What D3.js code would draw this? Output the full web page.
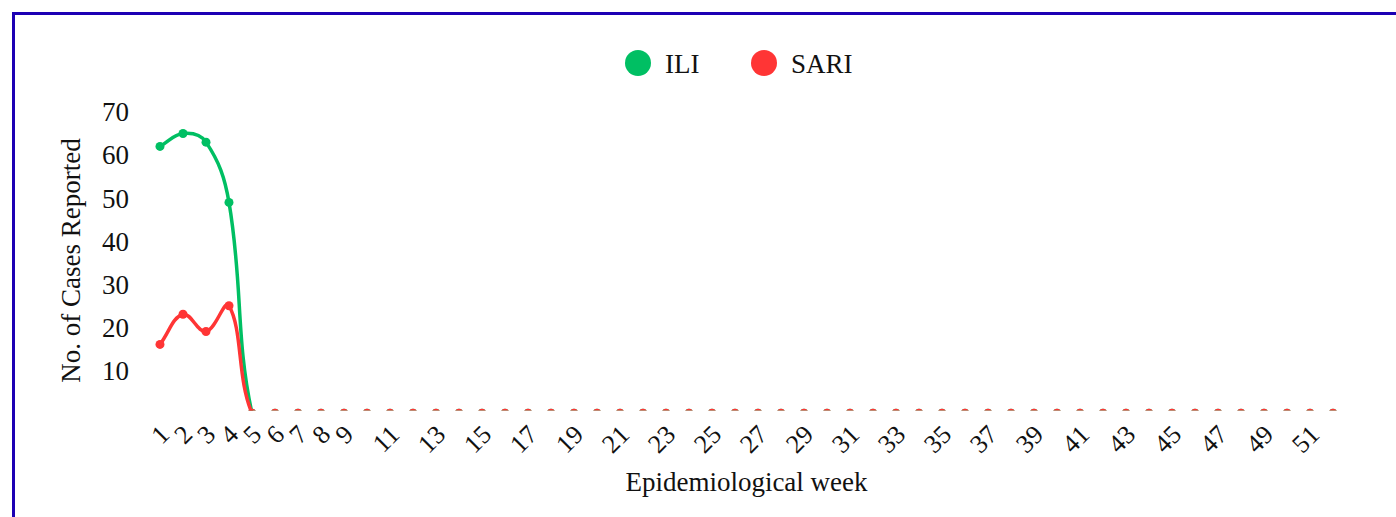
<!DOCTYPE html>
<html>
<head>
<meta charset="utf-8">
<script src="https://cdn.jsdelivr.net/npm/d3@7"></script>
<style>
  html, body { margin: 0; padding: 0; background: #fff; overflow: hidden; }
  text { font-family: "Liberation Serif", "Times New Roman", serif; fill: #111; }
</style>
</head>
<body>
<svg id="chart"></svg>
<script>
var weeks = [1, 2, 3, 4, 5, 6, 7, 8, 9, 10, 11, 12, 13, 14, 15, 16, 17, 18, 19, 20,
  21, 22, 23, 24, 25, 26, 27, 28, 29, 30, 31, 32, 33, 34, 35, 36, 37, 38, 39, 40,
  41, 42, 43, 44, 45, 46, 47, 48, 49, 50, 51, 52];

var iliCases = [62, 65, 63, 49, 0, 0, 0, 0, 0, 0, 0, 0, 0, 0, 0, 0, 0, 0, 0, 0,
  0, 0, 0, 0, 0, 0, 0, 0, 0, 0, 0, 0, 0, 0, 0, 0, 0, 0, 0, 0,
  0, 0, 0, 0, 0, 0, 0, 0, 0, 0, 0, 0];

var sariCases = [16, 23, 19, 25, 0, 0, 0, 0, 0, 0, 0, 0, 0, 0, 0, 0, 0, 0, 0, 0,
  0, 0, 0, 0, 0, 0, 0, 0, 0, 0, 0, 0, 0, 0, 0, 0, 0, 0, 0, 0,
  0, 0, 0, 0, 0, 0, 0, 0, 0, 0, 0, 0];

var xTickLabels = [1, 2, 3, 4, 5, 6, 7, 8, 9, 11, 13, 15, 17, 19, 21, 23, 25, 27,
  29, 31, 33, 35, 37, 39, 41, 43, 45, 47, 49, 51];
var yTickValues = [10, 20, 30, 40, 50, 60, 70];

var seriesNames = ['ILI', 'SARI'];
var seriesColors = ['#00bf63', '#ff3535'];

var width = 1396, height = 517;
var area = { left: 160, right: 1333, top: 112, bottom: 409 };
var tension = 0.4;

var svg = d3.select('#chart')
  .attr('width', width)
  .attr('height', height);

// frame
svg.append('rect')
  .attr('x', 13.5)
  .attr('y', 13.5)
  .attr('width', 1420)
  .attr('height', 540)
  .attr('fill', 'none')
  .attr('stroke', '#1c00b4')
  .attr('stroke-width', 3);

var x = d3.scalePoint()
  .domain(weeks)
  .range([area.left, area.right]);

var y = d3.scaleLinear()
  .domain([1, 70])
  .range([area.bottom, area.top]);

svg.append('clipPath')
  .attr('id', 'plot-clip')
  .append('rect')
  .attr('x', area.left - 20)
  .attr('y', area.top - 20)
  .attr('width', area.right - area.left + 40)
  .attr('height', area.bottom - area.top + 21.5);

// y ticks
svg.append('g')
  .selectAll('text')
  .data(yTickValues)
  .enter()
  .append('text')
  .attr('x', 129)
  .attr('y', function (d) { return y(d); })
  .attr('dy', '0.35em')
  .attr('text-anchor', 'end')
  .style('font-size', '27px')
  .text(function (d) { return d; });

// x ticks
svg.append('g')
  .selectAll('text')
  .data(xTickLabels)
  .enter()
  .append('text')
  .attr('transform', function (d) { return 'translate(' + (x(d) + 11) + ',436) rotate(-45)'; })
  .attr('text-anchor', 'end')
  .style('font-size', '26px')
  .text(function (d) { return d; });

// axis titles
svg.append('text')
  .attr('x', (area.left + area.right) / 2)
  .attr('y', 491)
  .attr('text-anchor', 'middle')
  .style('font-size', '27px')
  .text('Epidemiological week');

svg.append('text')
  .attr('transform', 'translate(80,' + ((area.top + area.bottom) / 2) + ') rotate(-90)')
  .attr('text-anchor', 'middle')
  .style('font-size', '27px')
  .text('No. of Cases Reported');

// spline like the original chart: control points weighted by segment length,
// capped to the plot only for points that sit inside it
function splinePath(pts) {
  var inside = function (p) { return p[1] >= area.top && p[1] <= area.bottom; };
  var clampY = function (v) { return Math.max(area.top, Math.min(area.bottom, v)); };
  var cps = pts.map(function (p, i) {
    var prev = pts[i - 1] || p, next = pts[i + 1] || p;
    var d01 = Math.hypot(p[0] - prev[0], p[1] - prev[1]);
    var d12 = Math.hypot(next[0] - p[0], next[1] - p[1]);
    var s01 = d01 / (d01 + d12 || 1), s12 = d12 / (d01 + d12 || 1);
    var fa = tension * s01, fb = tension * s12;
    var dx = next[0] - prev[0], dy = next[1] - prev[1];
    var c = {
      inX: p[0] - fa * dx, inY: p[1] - fa * dy,
      outX: p[0] + fb * dx, outY: p[1] + fb * dy
    };
    if (inside(p)) {
      c.inY = clampY(c.inY);
      c.outY = clampY(c.outY);
    }
    return c;
  });
  var path = d3.path();
  path.moveTo(pts[0][0], pts[0][1]);
  for (var i = 1; i < pts.length; i++) {
    path.bezierCurveTo(cps[i - 1].outX, cps[i - 1].outY, cps[i].inX, cps[i].inY, pts[i][0], pts[i][1]);
  }
  return path.toString();
}

var plot = svg.append('g').attr('clip-path', 'url(#plot-clip)');

[iliCases, sariCases].forEach(function (values, k) {
  var pts = values.map(function (v, i) { return [x(weeks[i]), y(v)]; });
  var g = plot.append('g');
  g.append('path')
    .attr('d', splinePath(pts))
    .attr('fill', 'none')
    .attr('stroke', seriesColors[k])
    .attr('stroke-width', 3.5);
  g.selectAll('circle')
    .data(values)
    .enter()
    .append('circle')
    .attr('cx', function (d, i) { return x(weeks[i]); })
    .attr('cy', function (d) { return y(d); })
    .attr('r', 4.5)
    .attr('fill', seriesColors[k]);
});

// legend
var legend = svg.append('g');
var legendX = [638, 764];
seriesNames.forEach(function (name, k) {
  legend.append('circle')
    .attr('cx', legendX[k])
    .attr('cy', 63)
    .attr('r', 13)
    .attr('fill', seriesColors[k]);
  legend.append('text')
    .attr('x', legendX[k] + 27)
    .attr('y', 73)
    .style('font-size', '27px')
    .text(name);
});
</script>
</body>
</html>
